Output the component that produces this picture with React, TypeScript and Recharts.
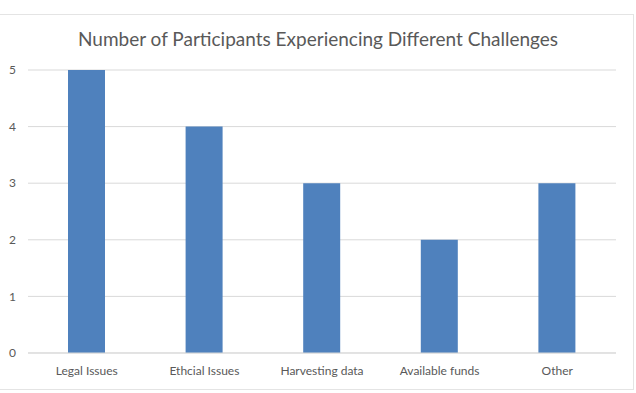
import { BarChart, Bar, XAxis, YAxis, CartesianGrid } from "recharts";

// Chart values
const categories = ["Legal Issues", "Ethcial Issues", "Harvesting data", "Available funds", "Other"];
const participants = [5, 4, 3, 2, 3];
const yTicks = [0, 1, 2, 3, 4, 5];

const chartData = categories.map((name, i) => ({ name, value: participants[i] }));

const textColor = "#595959";
const gridColor = "#d9d9d9";
const font = "Lato, 'Open Sans', sans-serif";

export default function App() {
  return (
    <div
      style={{
        position: "absolute",
        left: 0,
        top: 0,
        width: 636,
        height: 393,
        background: "#fff",
        fontFamily: font,
      }}
    >
      {/* faint chart-area frame */}
      <div
        style={{
          position: "absolute",
          left: -1,
          top: 14,
          width: 633,
          height: 374,
          border: "1px solid #e4e4e4",
        }}
      />
      <div
        style={{
          position: "absolute",
          top: 27,
          left: 0,
          width: 636,
          textAlign: "center",
          fontSize: 19,
          color: textColor,
        }}
      >
        Number of Participants Experiencing Different Challenges
      </div>
      <div style={{ position: "absolute", left: 0, top: 0 }}>
        <BarChart
          width={636}
          height={393}
          data={chartData}
          margin={{ top: 70, right: 20, left: 0, bottom: 0 }}
        >
          <CartesianGrid vertical={false} stroke={gridColor} />
          <XAxis
            dataKey="name"
            height={40}
            axisLine={{ stroke: gridColor }}
            tickLine={false}
            tickSize={0}
            tickMargin={13}
            tick={{ fill: textColor, fontSize: 12, fontFamily: font }}
            interval={0}
          />
          <YAxis
            width={28}
            domain={[0, 5]}
            ticks={yTicks}
            axisLine={false}
            tickLine={false}
            tickSize={0}
            tickMargin={12}
            tick={{ fill: textColor, fontSize: 12, fontFamily: font }}
          />
          <Bar dataKey="value" fill="#4f81bd" barSize={37} isAnimationActive={false} />
        </BarChart>
      </div>
    </div>
  );
}
